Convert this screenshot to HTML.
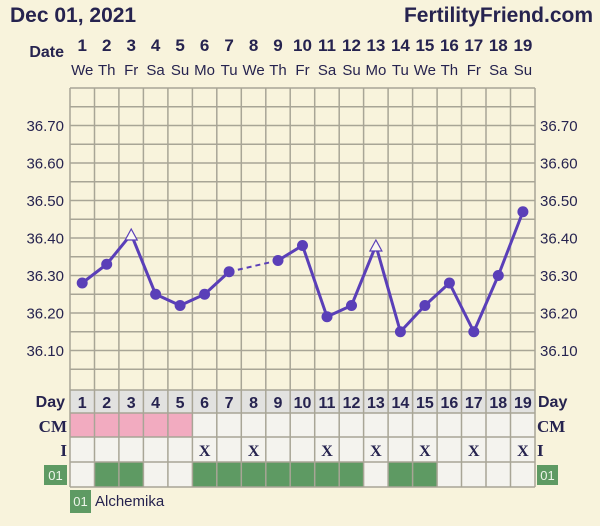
<!DOCTYPE html><html><head><style>
body{margin:0;background:#f8f3dc;}
svg{display:block;font-family:"Liberation Sans",sans-serif;}
</style></head><body>
<svg width="600" height="526" xmlns="http://www.w3.org/2000/svg">
<rect width="600" height="526" fill="#f8f3dc"/>
<text x="10" y="22" font-size="21" font-weight="bold" fill="#26234f">Dec 01, 2021</text>
<text x="593" y="22" font-size="21" font-weight="bold" fill="#26234f" text-anchor="end">FertilityFriend.com</text>
<text x="64" y="57" font-size="16" font-weight="bold" fill="#26234f" text-anchor="end">Date</text>
<g font-size="17" font-weight="bold" fill="#26234f" text-anchor="middle">
<text x="82.2" y="51">1</text><text x="106.7" y="51">2</text><text x="131.2" y="51">3</text><text x="155.6" y="51">4</text><text x="180.1" y="51">5</text><text x="204.6" y="51">6</text><text x="229.1" y="51">7</text><text x="253.6" y="51">8</text><text x="278" y="51">9</text><text x="302.5" y="51">10</text><text x="327" y="51">11</text><text x="351.5" y="51">12</text><text x="375.9" y="51">13</text><text x="400.4" y="51">14</text><text x="424.9" y="51">15</text><text x="449.4" y="51">16</text><text x="473.8" y="51">17</text><text x="498.3" y="51">18</text><text x="522.9" y="51">19</text>
</g>
<g font-size="15" fill="#26234f" text-anchor="middle">
<text x="82.2" y="75">We</text><text x="106.7" y="75">Th</text><text x="131.2" y="75">Fr</text><text x="155.6" y="75">Sa</text><text x="180.1" y="75">Su</text><text x="204.6" y="75">Mo</text><text x="229.1" y="75">Tu</text><text x="253.6" y="75">We</text><text x="278" y="75">Th</text><text x="302.5" y="75">Fr</text><text x="327" y="75">Sa</text><text x="351.5" y="75">Su</text><text x="375.9" y="75">Mo</text><text x="400.4" y="75">Tu</text><text x="424.9" y="75">We</text><text x="449.4" y="75">Th</text><text x="473.8" y="75">Fr</text><text x="498.3" y="75">Sa</text><text x="522.9" y="75">Su</text>
</g>
<!-- grid -->
<g stroke="#a8a596" stroke-width="1.5">
<line x1="70" y1="88" x2="535" y2="88"/><line x1="70" y1="106.75" x2="535" y2="106.75"/><line x1="70" y1="125.5" x2="535" y2="125.5"/><line x1="70" y1="144.25" x2="535" y2="144.25"/><line x1="70" y1="163" x2="535" y2="163"/><line x1="70" y1="181.75" x2="535" y2="181.75"/><line x1="70" y1="200.5" x2="535" y2="200.5"/><line x1="70" y1="219.25" x2="535" y2="219.25"/><line x1="70" y1="238" x2="535" y2="238"/><line x1="70" y1="256.75" x2="535" y2="256.75"/><line x1="70" y1="275.5" x2="535" y2="275.5"/><line x1="70" y1="294.25" x2="535" y2="294.25"/><line x1="70" y1="313" x2="535" y2="313"/><line x1="70" y1="331.75" x2="535" y2="331.75"/><line x1="70" y1="350.5" x2="535" y2="350.5"/><line x1="70" y1="369.25" x2="535" y2="369.25"/>
<line x1="70" y1="88" x2="70" y2="390"/><line x1="94.5" y1="88" x2="94.5" y2="390"/><line x1="118.9" y1="88" x2="118.9" y2="390"/><line x1="143.4" y1="88" x2="143.4" y2="390"/><line x1="167.9" y1="88" x2="167.9" y2="390"/><line x1="192.4" y1="88" x2="192.4" y2="390"/><line x1="216.8" y1="88" x2="216.8" y2="390"/><line x1="241.3" y1="88" x2="241.3" y2="390"/><line x1="265.8" y1="88" x2="265.8" y2="390"/><line x1="290.2" y1="88" x2="290.2" y2="390"/><line x1="314.7" y1="88" x2="314.7" y2="390"/><line x1="339.2" y1="88" x2="339.2" y2="390"/><line x1="363.6" y1="88" x2="363.6" y2="390"/><line x1="388.1" y1="88" x2="388.1" y2="390"/><line x1="412.6" y1="88" x2="412.6" y2="390"/><line x1="437.1" y1="88" x2="437.1" y2="390"/><line x1="461.5" y1="88" x2="461.5" y2="390"/><line x1="486" y1="88" x2="486" y2="390"/><line x1="510.5" y1="88" x2="510.5" y2="390"/><line x1="535" y1="88" x2="535" y2="390"/>
</g>
<g font-size="15" fill="#26234f">
<g text-anchor="end">
<text x="64" y="131">36.70</text><text x="64" y="168.5">36.60</text><text x="64" y="206">36.50</text><text x="64" y="243.5">36.40</text><text x="64" y="281">36.30</text><text x="64" y="318.5">36.20</text><text x="64" y="356">36.10</text>
</g>
<text x="540" y="131">36.70</text><text x="540" y="168.5">36.60</text><text x="540" y="206">36.50</text><text x="540" y="243.5">36.40</text><text x="540" y="281">36.30</text><text x="540" y="318.5">36.20</text><text x="540" y="356">36.10</text>
</g>
<!-- table -->
<rect x="70" y="390" width="465" height="23" fill="#e2e2e0"/>
<rect x="70" y="413" width="465" height="74" fill="#f4f3ee"/>
<rect x="70" y="413" width="122.4" height="24" fill="#f2abc0"/>
<g fill="#5e9a63">
<rect x="94.5" y="462" width="48.9" height="25"/>
<rect x="192.4" y="462" width="171.2" height="25"/>
<rect x="388.1" y="462" width="48.9" height="25"/>
</g>
<g stroke="#a8a596" stroke-width="1.5">
<line x1="70" y1="390" x2="535" y2="390"/><line x1="70" y1="413" x2="535" y2="413"/><line x1="70" y1="437" x2="535" y2="437"/><line x1="70" y1="462" x2="535" y2="462"/><line x1="70" y1="487" x2="535" y2="487"/>
<line x1="70" y1="390" x2="70" y2="487"/><line x1="94.5" y1="390" x2="94.5" y2="487"/><line x1="118.9" y1="390" x2="118.9" y2="487"/><line x1="143.4" y1="390" x2="143.4" y2="487"/><line x1="167.9" y1="390" x2="167.9" y2="487"/><line x1="192.4" y1="390" x2="192.4" y2="487"/><line x1="216.8" y1="390" x2="216.8" y2="487"/><line x1="241.3" y1="390" x2="241.3" y2="487"/><line x1="265.8" y1="390" x2="265.8" y2="487"/><line x1="290.2" y1="390" x2="290.2" y2="487"/><line x1="314.7" y1="390" x2="314.7" y2="487"/><line x1="339.2" y1="390" x2="339.2" y2="487"/><line x1="363.6" y1="390" x2="363.6" y2="487"/><line x1="388.1" y1="390" x2="388.1" y2="487"/><line x1="412.6" y1="390" x2="412.6" y2="487"/><line x1="437.1" y1="390" x2="437.1" y2="487"/><line x1="461.5" y1="390" x2="461.5" y2="487"/><line x1="486" y1="390" x2="486" y2="487"/><line x1="510.5" y1="390" x2="510.5" y2="487"/><line x1="535" y1="390" x2="535" y2="487"/>
</g>
<g font-size="16" font-weight="bold" fill="#26234f" text-anchor="middle">
<text x="82.2" y="408">1</text><text x="106.7" y="408">2</text><text x="131.2" y="408">3</text><text x="155.6" y="408">4</text><text x="180.1" y="408">5</text><text x="204.6" y="408">6</text><text x="229.1" y="408">7</text><text x="253.6" y="408">8</text><text x="278" y="408">9</text><text x="302.5" y="408">10</text><text x="327" y="408">11</text><text x="351.5" y="408">12</text><text x="375.9" y="408">13</text><text x="400.4" y="408">14</text><text x="424.9" y="408">15</text><text x="449.4" y="408">16</text><text x="473.8" y="408">17</text><text x="498.3" y="408">18</text><text x="522.9" y="408">19</text>
</g>
<g font-size="16" font-weight="bold" fill="#26234f" text-anchor="middle" font-family="Liberation Serif,serif">
<text x="204.6" y="456">X</text><text x="253.6" y="456">X</text><text x="327" y="456">X</text><text x="375.9" y="456">X</text><text x="424.9" y="456">X</text><text x="473.8" y="456">X</text><text x="522.9" y="456">X</text>
</g>
<text x="65" y="407" font-size="16" font-weight="bold" fill="#26234f" text-anchor="end">Day</text>
<text x="538" y="407" font-size="16" font-weight="bold" fill="#26234f">Day</text>
<g font-family="Liberation Serif,serif" font-size="17" font-weight="bold" fill="#26234f">
<text x="67" y="432" text-anchor="end">CM</text><text x="537" y="432">CM</text>
<text x="67" y="456" text-anchor="end">I</text><text x="537" y="456">I</text>
</g>
<rect x="44" y="465" width="23" height="20" fill="#5e9a63"/>
<text x="55.5" y="480" font-size="13" fill="#eef5ea" text-anchor="middle">01</text>
<rect x="537" y="465" width="21" height="20" fill="#5e9a63"/>
<text x="547.5" y="480" font-size="13" fill="#eef5ea" text-anchor="middle">01</text>
<rect x="70" y="490" width="21" height="23" fill="#5e9a63"/>
<text x="80.5" y="506" font-size="13" fill="#eef5ea" text-anchor="middle">01</text>
<text x="95" y="506" font-size="15" fill="#26234f">Alchemika</text>
<!-- series -->
<g stroke="#5a3fb8" stroke-width="3" fill="none" stroke-linejoin="round">
<polyline points="82.2,283 106.7,264.25 131.2,234.25 155.6,294.25 180.1,305.5 204.6,294.25 229.1,271.75"/>
<line x1="229.1" y1="271.75" x2="278" y2="260.5" stroke-dasharray="5,4" stroke-width="2"/>
<polyline points="278,260.5 302.5,245.5 327,316.75 351.5,305.5 375.9,245.5 400.4,331.75 424.9,305.5 449.4,283 473.8,331.75 498.3,275.5 522.9,211.75"/>
</g>
<g fill="#5a3fb8">
<circle cx="82.2" cy="283" r="5.5"/><circle cx="106.7" cy="264.25" r="5.5"/><circle cx="155.6" cy="294.25" r="5.5"/><circle cx="180.1" cy="305.5" r="5.5"/><circle cx="204.6" cy="294.25" r="5.5"/><circle cx="229.1" cy="271.75" r="5.5"/><circle cx="278" cy="260.5" r="5.5"/><circle cx="302.5" cy="245.5" r="5.5"/><circle cx="327" cy="316.75" r="5.5"/><circle cx="351.5" cy="305.5" r="5.5"/><circle cx="400.4" cy="331.75" r="5.5"/><circle cx="424.9" cy="305.5" r="5.5"/><circle cx="449.4" cy="283" r="5.5"/><circle cx="473.8" cy="331.75" r="5.5"/><circle cx="498.3" cy="275.5" r="5.5"/><circle cx="522.9" cy="211.75" r="5.5"/>
</g>
<g fill="#fbf8f0" stroke="#5a3fb8" stroke-width="1.2">
<polygon points="131.2,229 125.2,240 137.2,240"/>
<polygon points="375.9,240 369.9,251 381.9,251"/>
</g>
</svg>
</body></html>
